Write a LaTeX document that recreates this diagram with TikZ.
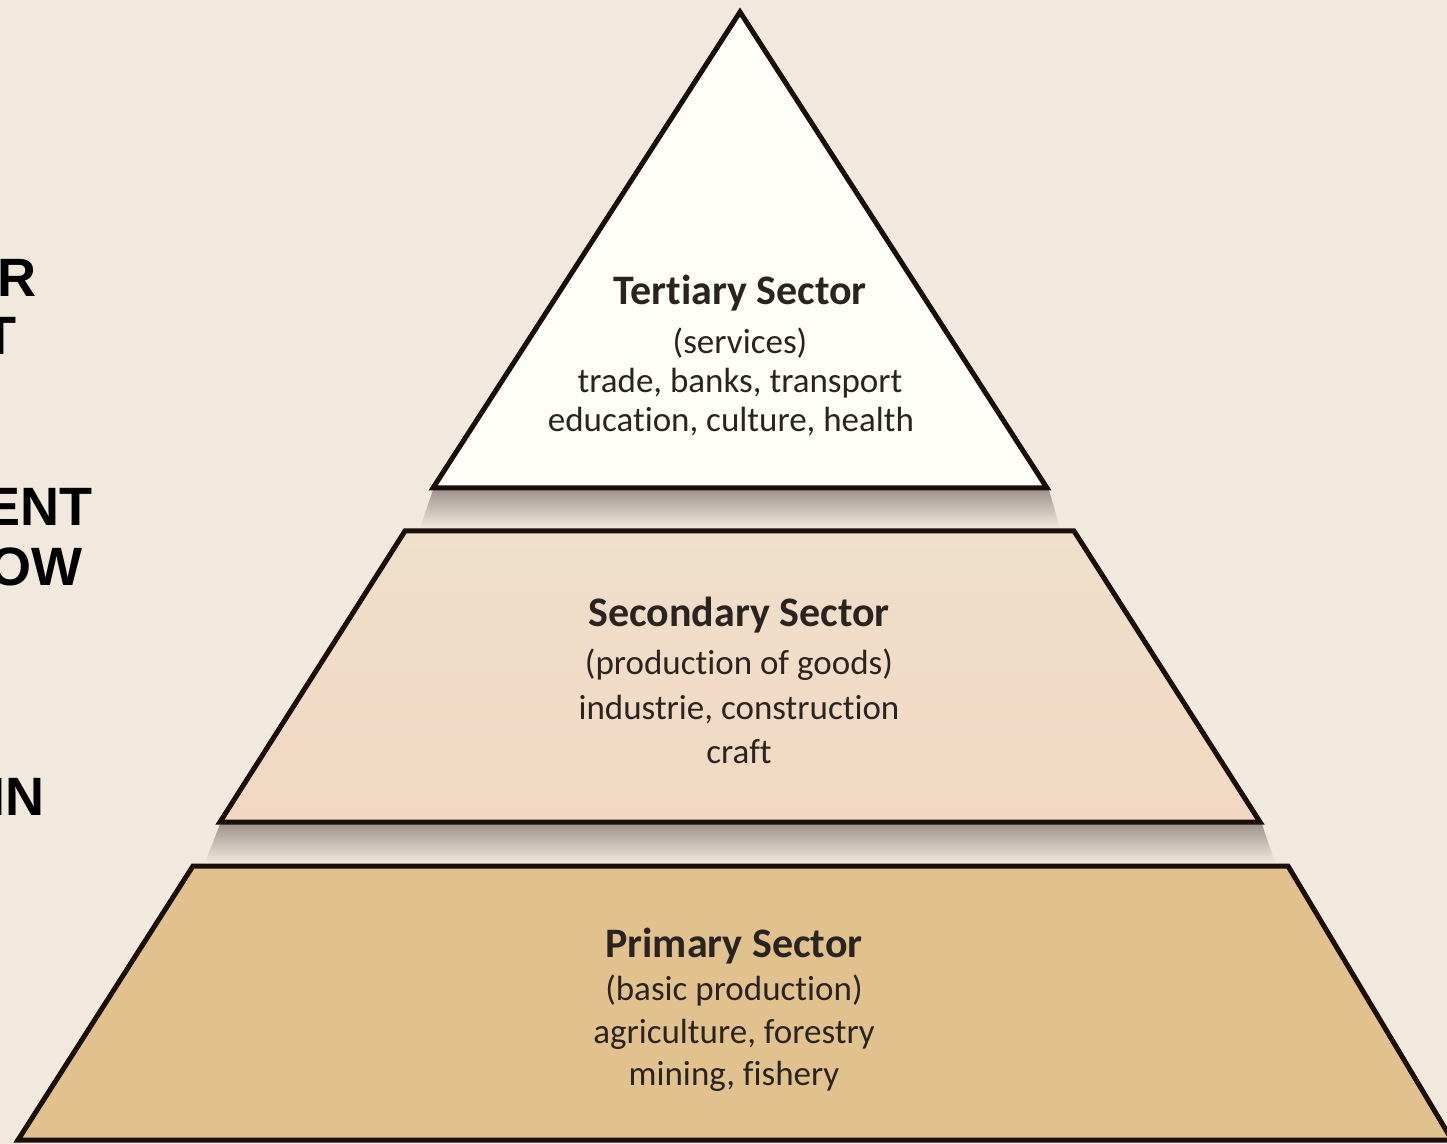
\documentclass[tikz,border=0pt]{standalone}
\usepackage{fontspec}
\setmainfont{Carlito}[Ligatures=NoCommon]
\newfontfamily\sidefont{Liberation Sans}
\definecolor{bgc}{HTML}{F1E9DE}
\definecolor{topfill}{HTML}{FFFDF8}
\definecolor{midfill}{HTML}{F2D8C2}
\definecolor{midtop}{HTML}{EFDFCB}
\definecolor{botfill}{HTML}{E1C28F}
\definecolor{shadowc}{HTML}{A0948C}
\definecolor{inkc}{HTML}{1A0E0A}
\definecolor{textc}{HTML}{2A2420}
\tikzset{
  layer/.style={draw=inkc, line width=2.5pt, line join=miter},
  titletext/.style={font=\bfseries\fontsize{21}{24}\selectfont, text=textc, inner sep=0pt, anchor=base},
  bodytext/.style={font=\fontsize{17.5}{20}\selectfont, text=textc, inner sep=0pt, anchor=base},
  sidetext/.style={font=\sidefont\bfseries\fontsize{27}{29}\selectfont, text=black, inner sep=0pt, anchor=base east},
  shadowband/.style={top color=shadowc, bottom color=bgc, draw=none}
}
\begin{document}
\begin{tikzpicture}[x=0.5pt, y=-0.5pt]
\useasboundingbox (0,0) rectangle (1447,1144);
\clip (0,0) rectangle (1447,1144);
\fill[bgc] (0,0) rectangle (1447,1144);

% shadows
\shade[shadowband] (433,490) -- (1049,490) -- (1060,528) -- (420,528) -- cycle;
\shade[shadowband] (220,824) -- (1262,824) -- (1275,863) -- (205,863) -- cycle;

% layers
\coordinate (apex) at (740,12);
\coordinate (tl) at (433,488);
\coordinate (tr) at (1047,488);
\draw[layer, fill=topfill] (apex) -- (tr) -- (tl) -- cycle;

\coordinate (ml1) at (405,531);
\coordinate (mr1) at (1074,531);
\coordinate (mr2) at (1260,822);
\coordinate (ml2) at (220,822);
\shade[top color=midtop, bottom color=midfill] (ml1) -- (mr1) -- (mr2) -- (ml2) -- cycle;
\draw[layer] (ml1) -- (mr1) -- (mr2) -- (ml2) -- cycle;

\coordinate (bl1) at (193,866);
\coordinate (br1) at (1288,866);
\coordinate (br2) at (1452,1140);
\coordinate (bl2) at (18,1140);
\draw[layer, fill=botfill] (bl1) -- (br1) -- (br2) -- (bl2) -- cycle;

% tertiary
\node[titletext] (t1) at (740,305) {Tertiary Sector};
\node[bodytext] (t2) at (740,354) {(services)};
\node[bodytext] (t3) at (740,393) {trade, banks, transport};
\node[bodytext] (t4) at (731,432) {education, culture, health};
% secondary
\node[titletext] (m1) at (739,627) {Secondary Sector};
\node[bodytext] (m2) at (739,675) {(production of goods)};
\node[bodytext] (m3) at (739,719) {industrie, construction};
\node[bodytext] (m4) at (739,763) {craft};
% primary
\node[titletext] (p1) at (734,957) {Primary Sector};
\node[bodytext] (p2) at (734,1000) {(basic production)};
\node[bodytext] (p3) at (734,1043) {agriculture, forestry};
\node[bodytext] (p4) at (734,1085) {mining, fishery};

% cut-off side text
\node[sidetext] (s1) at (37,297) {R};
\node[sidetext] (s2) at (17,355) {T};
\node[sidetext] (s3) at (93,526) {ENT};
\node[sidetext] (s4) at (83,586) {OW};
\node[sidetext] (s5) at (45,815) {IN};
\end{tikzpicture}
\end{document}
